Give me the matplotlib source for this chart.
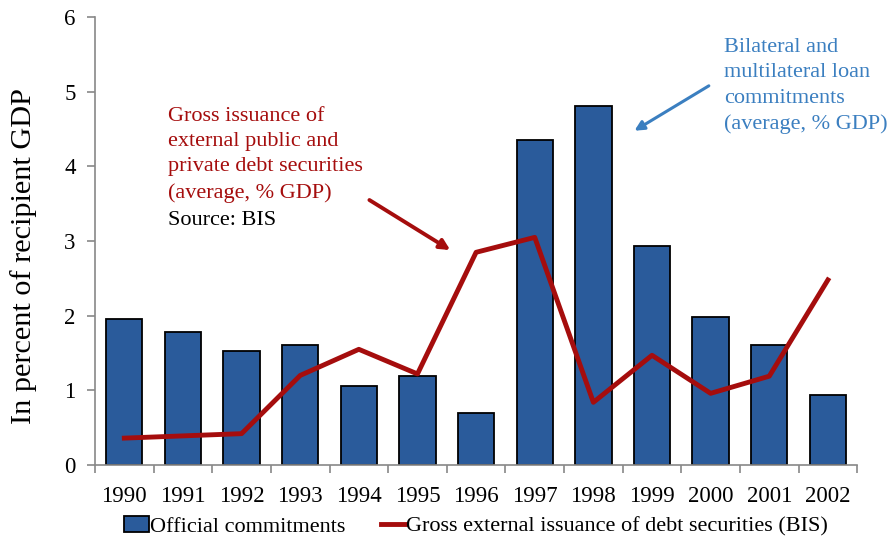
import numpy as np
import matplotlib.pyplot as plt

plt.rcParams['font.family'] = ['Liberation Serif', 'DejaVu Serif']

years = ['1990', '1991', '1992', '1993', '1994', '1995', '1996',
         '1997', '1998', '1999', '2000', '2001', '2002']
official = [1.95, 1.78, 1.53, 1.61, 1.06, 1.19, 0.70,
            4.36, 4.81, 2.93, 1.98, 1.61, 0.94]
bis = [0.36, 0.39, 0.42, 1.20, 1.55, 1.22, 2.85,
       3.05, 0.84, 1.47, 0.96, 1.19, 2.48]

bar_col = '#2A5B9B'
line_col = '#A50D0D'
blue_txt = '#3B7FC0'

fig = plt.figure(figsize=(8.92, 5.38), dpi=100)
ax = fig.add_axes([0.1065, 0.1357, 0.8545, 0.8323])

x = np.arange(len(years))
bars = ax.bar(x, official, width=0.62, color=bar_col, edgecolor='black',
              linewidth=1.3, label='Official commitments', zorder=2)
line, = ax.plot(x, bis, color=line_col, linewidth=3.5,
                label='Gross external issuance of debt securities (BIS)', zorder=3)

ax.set_xlim(-0.5, len(years) - 0.5)
ax.set_ylim(0, 6)
ax.set_yticks(range(7))
ax.set_xticks(x)
ax.set_xticklabels(years)
ax.set_xticks(np.arange(-0.5, len(years)), minor=True)
ax.tick_params(axis='x', which='major', length=0, labelsize=16.5, pad=15)
ax.tick_params(axis='x', which='minor', length=6, color='#888888', width=1.2)
ax.tick_params(axis='y', length=6, color='#888888', width=1.2,
               labelsize=16.5, pad=8)

for s in ['top', 'right']:
    ax.spines[s].set_visible(False)
for s in ['left', 'bottom']:
    ax.spines[s].set_color('#888888')
    ax.spines[s].set_linewidth(1.2)

ax.set_ylabel('In percent of recipient GDP', fontsize=21.8)
ax.yaxis.set_label_coords(-0.076, 0.467)

# annotation on the line (red) plus source
ax.text(0.75, 4.80, 'Gross issuance of\nexternal public and\nprivate debt securities\n(average, % GDP)',
        color=line_col, fontsize=16, va='top', linespacing=1.45)
ax.text(0.75, 3.27, 'Source: BIS', color='black', fontsize=16, va='center')
ax.annotate('', xy=(5.6, 2.86), xytext=(4.14, 3.57),
            arrowprops=dict(arrowstyle='-|>', color=line_col, lw=2.8,
                            mutation_scale=15))

# annotation on the bars (blue)
ax.text(10.23, 5.72, 'Bilateral and\nmultilateral loan\ncommitments\n(average, % GDP)',
        color=blue_txt, fontsize=16, va='top', linespacing=1.45)
ax.annotate('', xy=(8.66, 4.46), xytext=(10.01, 5.1),
            arrowprops=dict(arrowstyle='-|>', color=blue_txt, lw=2.2,
                            mutation_scale=14))

ax.legend(handles=[bars, line], loc='upper center', bbox_to_anchor=(0.5, -0.095),
          ncol=2, frameon=False, fontsize=16, handlelength=1.1,
          handletextpad=0.05, columnspacing=1.6, borderaxespad=0)

fig.savefig('out.png', dpi=100)
